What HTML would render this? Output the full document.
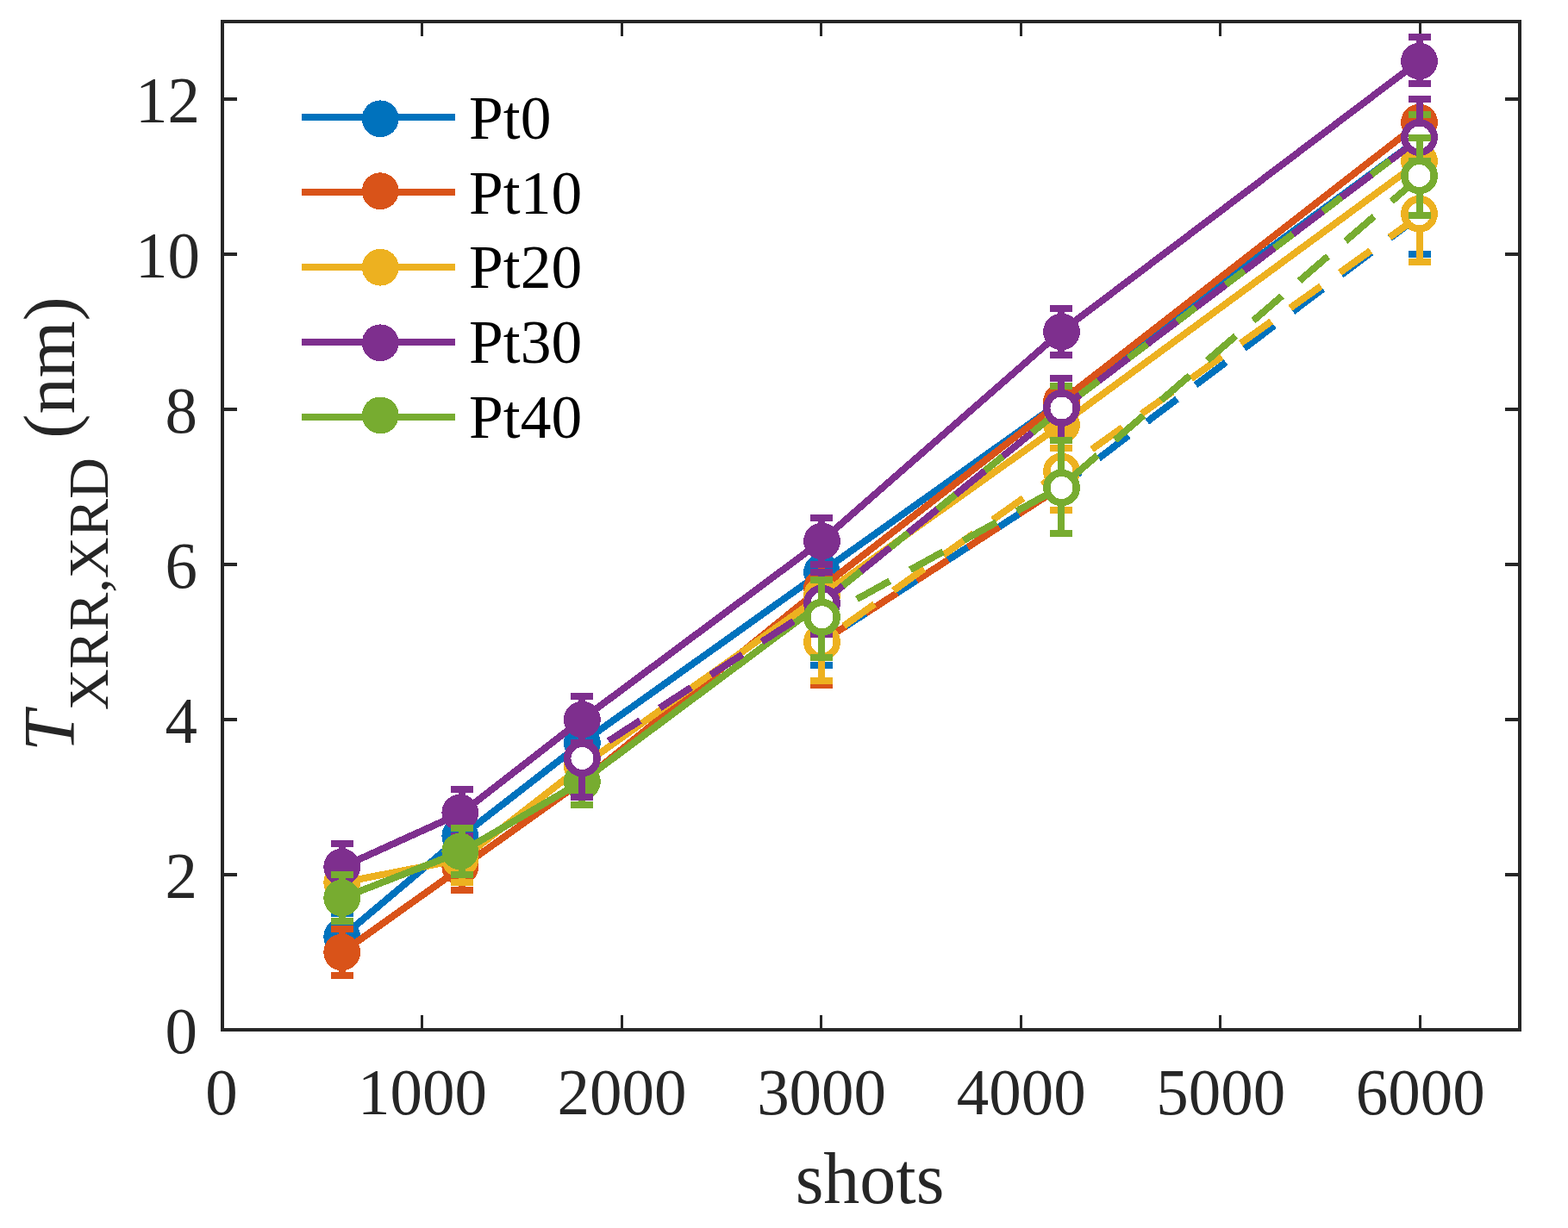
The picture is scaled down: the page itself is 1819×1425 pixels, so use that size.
<!DOCTYPE html>
<html lang="en">
<head>
<meta charset="utf-8">
<title>T XRR,XRD (nm) vs shots</title>
<style>
html,body{margin:0;padding:0;background:#fff;}
body{width:1819px;height:1425px;overflow:hidden;}
svg{display:block;}
</style>
</head>
<body>
<svg width="1819" height="1425" viewBox="0 0 1819 1425">
<rect width="1819" height="1425" fill="#fff"/>
<g fill="#262626" shape-rendering="crispEdges">
<rect x="256" y="23" width="1509" height="4"/>
<rect x="256" y="1193" width="1509" height="4"/>
<rect x="256" y="23" width="4" height="1174"/>
<rect x="1761" y="23" width="4" height="1174"/>
<rect x="488" y="1178" width="3" height="17"/>
<rect x="488" y="25" width="3" height="17"/>
<rect x="720" y="1178" width="3" height="17"/>
<rect x="720" y="25" width="3" height="17"/>
<rect x="951" y="1178" width="3" height="17"/>
<rect x="951" y="25" width="3" height="17"/>
<rect x="1183" y="1178" width="3" height="17"/>
<rect x="1183" y="25" width="3" height="17"/>
<rect x="1414" y="1178" width="3" height="17"/>
<rect x="1414" y="25" width="3" height="17"/>
<rect x="1646" y="1178" width="3" height="17"/>
<rect x="1646" y="25" width="3" height="17"/>
<rect x="258" y="1013" width="17" height="4"/>
<rect x="1746" y="1013" width="17" height="4"/>
<rect x="258" y="833" width="17" height="4"/>
<rect x="1746" y="833" width="17" height="4"/>
<rect x="258" y="653" width="17" height="4"/>
<rect x="1746" y="653" width="17" height="4"/>
<rect x="258" y="473" width="17" height="4"/>
<rect x="1746" y="473" width="17" height="4"/>
<rect x="258" y="293" width="17" height="4"/>
<rect x="1746" y="293" width="17" height="4"/>
<rect x="258" y="113" width="17" height="4"/>
<rect x="1746" y="113" width="17" height="4"/>
</g>
<g font-family="'Liberation Serif', 'Times New Roman', serif" font-size="75" fill="#262626">
<text transform="translate(257 1292.7) scale(1 1.025)" text-anchor="middle">0</text>
<text transform="translate(490.04 1292.7) scale(1 1.025)" text-anchor="middle">1000</text>
<text transform="translate(721.58 1292.7) scale(1 1.025)" text-anchor="middle">2000</text>
<text transform="translate(953.12 1292.7) scale(1 1.025)" text-anchor="middle">3000</text>
<text transform="translate(1184.65 1292.7) scale(1 1.025)" text-anchor="middle">4000</text>
<text transform="translate(1416.19 1292.7) scale(1 1.025)" text-anchor="middle">5000</text>
<text transform="translate(1647.73 1292.7) scale(1 1.025)" text-anchor="middle">6000</text>
<text transform="translate(229 1221.7) scale(1 1.025)" text-anchor="end">0</text>
<text transform="translate(229 1041.7) scale(1 1.025)" text-anchor="end">2</text>
<text transform="translate(229 861.7) scale(1 1.025)" text-anchor="end">4</text>
<text transform="translate(229 681.7) scale(1 1.025)" text-anchor="end">6</text>
<text transform="translate(229 501.7) scale(1 1.025)" text-anchor="end">8</text>
<text transform="translate(232 321.7) scale(1 1.025)" text-anchor="end">10</text>
<text transform="translate(232 141.7) scale(1 1.025)" text-anchor="end">12</text>
</g>
<g font-family="'Liberation Serif', 'Times New Roman', serif" fill="#262626">
<text x="1009" y="1396" font-size="84" text-anchor="middle">shots</text>
<text transform="translate(86.1 872.1) rotate(-90)" font-size="84.6"><tspan x="0" y="0" font-style="italic">T</tspan><tspan x="47.85" y="38.95" font-size="66.4">XRR,XRD</tspan><tspan x="342.3" y="0"> (nm)</tspan></text>
</g>
<g shape-rendering="crispEdges">
<path d="M397.12 1087 L536.05 970 L674.97 862 L952.82 664 L1230.66 466 L1647.43 160" fill="none" stroke="#0072BD" stroke-width="8" stroke-linejoin="miter"/>
<path d="M397.12 1060 V1114 M384.12 1060 H410.12 M384.12 1114 H410.12" fill="none" stroke="#0072BD" stroke-width="8"/>
<path d="M536.05 943 V997 M523.05 943 H549.05 M523.05 997 H549.05" fill="none" stroke="#0072BD" stroke-width="8"/>
<path d="M674.97 835 V889 M661.97 835 H687.97 M661.97 889 H687.97" fill="none" stroke="#0072BD" stroke-width="8"/>
<path d="M952.82 637 V691 M939.82 637 H965.82 M939.82 691 H965.82" fill="none" stroke="#0072BD" stroke-width="8"/>
<path d="M1230.66 439 V493 M1217.66 439 H1243.66 M1217.66 493 H1243.66" fill="none" stroke="#0072BD" stroke-width="8"/>
<path d="M1647.43 133 V187 M1634.43 133 H1660.43 M1634.43 187 H1660.43" fill="none" stroke="#0072BD" stroke-width="8"/>
<circle cx="396.70" cy="1087.00" r="21.4" fill="#0072BD"/>
<circle cx="533.80" cy="970.00" r="21.4" fill="#0072BD"/>
<circle cx="675.40" cy="862.00" r="21.4" fill="#0072BD"/>
<circle cx="953.50" cy="664.00" r="21.4" fill="#0072BD"/>
<circle cx="1231.50" cy="466.00" r="21.4" fill="#0072BD"/>
<circle cx="1646.50" cy="159.50" r="21.4" fill="#0072BD"/>
<path d="M397.12 1105 L536.05 1006 L674.97 907 L952.82 682 L1230.66 466 L1647.43 142" fill="none" stroke="#D95319" stroke-width="8" stroke-linejoin="miter"/>
<path d="M397.12 1078 V1132 M384.12 1078 H410.12 M384.12 1132 H410.12" fill="none" stroke="#D95319" stroke-width="8"/>
<path d="M536.05 979 V1033 M523.05 979 H549.05 M523.05 1033 H549.05" fill="none" stroke="#D95319" stroke-width="8"/>
<path d="M674.97 880 V934 M661.97 880 H687.97 M661.97 934 H687.97" fill="none" stroke="#D95319" stroke-width="8"/>
<path d="M952.82 655 V709 M939.82 655 H965.82 M939.82 709 H965.82" fill="none" stroke="#D95319" stroke-width="8"/>
<path d="M1230.66 439 V493 M1217.66 439 H1243.66 M1217.66 493 H1243.66" fill="none" stroke="#D95319" stroke-width="8"/>
<path d="M1647.43 115 V169 M1634.43 115 H1660.43 M1634.43 169 H1660.43" fill="none" stroke="#D95319" stroke-width="8"/>
<circle cx="396.70" cy="1105.00" r="21.4" fill="#D95319"/>
<circle cx="533.80" cy="1006.00" r="21.4" fill="#D95319"/>
<circle cx="675.40" cy="907.00" r="21.4" fill="#D95319"/>
<circle cx="953.50" cy="682.00" r="21.4" fill="#D95319"/>
<circle cx="1231.50" cy="466.00" r="21.4" fill="#D95319"/>
<circle cx="1646.50" cy="142.00" r="21.4" fill="#D95319"/>
<path d="M397.12 1024 L536.05 997 L674.97 889 L952.82 691 L1230.66 493 L1647.43 187" fill="none" stroke="#EDB120" stroke-width="8" stroke-linejoin="miter"/>
<path d="M397.12 997 V1051 M384.12 997 H410.12 M384.12 1051 H410.12" fill="none" stroke="#EDB120" stroke-width="8"/>
<path d="M536.05 970 V1024 M523.05 970 H549.05 M523.05 1024 H549.05" fill="none" stroke="#EDB120" stroke-width="8"/>
<path d="M674.97 862 V916 M661.97 862 H687.97 M661.97 916 H687.97" fill="none" stroke="#EDB120" stroke-width="8"/>
<path d="M952.82 664 V718 M939.82 664 H965.82 M939.82 718 H965.82" fill="none" stroke="#EDB120" stroke-width="8"/>
<path d="M1230.66 466 V520 M1217.66 466 H1243.66 M1217.66 520 H1243.66" fill="none" stroke="#EDB120" stroke-width="8"/>
<path d="M1647.43 160 V214 M1634.43 160 H1660.43 M1634.43 214 H1660.43" fill="none" stroke="#EDB120" stroke-width="8"/>
<circle cx="396.70" cy="1024.00" r="21.4" fill="#EDB120"/>
<circle cx="533.80" cy="997.00" r="21.4" fill="#EDB120"/>
<circle cx="675.40" cy="889.00" r="21.4" fill="#EDB120"/>
<circle cx="953.50" cy="691.00" r="21.4" fill="#EDB120"/>
<circle cx="1231.50" cy="493.00" r="21.4" fill="#EDB120"/>
<circle cx="1646.50" cy="187.00" r="21.4" fill="#EDB120"/>
<path d="M397.12 1006 L536.05 943 L674.97 835 L952.82 628 L1230.66 385 L1647.43 70" fill="none" stroke="#7E2F8E" stroke-width="8" stroke-linejoin="miter"/>
<path d="M397.12 979 V1033 M384.12 979 H410.12 M384.12 1033 H410.12" fill="none" stroke="#7E2F8E" stroke-width="8"/>
<path d="M536.05 916 V970 M523.05 916 H549.05 M523.05 970 H549.05" fill="none" stroke="#7E2F8E" stroke-width="8"/>
<path d="M674.97 808 V862 M661.97 808 H687.97 M661.97 862 H687.97" fill="none" stroke="#7E2F8E" stroke-width="8"/>
<path d="M952.82 601 V655 M939.82 601 H965.82 M939.82 655 H965.82" fill="none" stroke="#7E2F8E" stroke-width="8"/>
<path d="M1230.66 358 V412 M1217.66 358 H1243.66 M1217.66 412 H1243.66" fill="none" stroke="#7E2F8E" stroke-width="8"/>
<path d="M1647.43 43 V97 M1634.43 43 H1660.43 M1634.43 97 H1660.43" fill="none" stroke="#7E2F8E" stroke-width="8"/>
<circle cx="396.70" cy="1006.00" r="21.4" fill="#7E2F8E"/>
<circle cx="533.80" cy="943.00" r="21.4" fill="#7E2F8E"/>
<circle cx="675.40" cy="835.00" r="21.4" fill="#7E2F8E"/>
<circle cx="953.50" cy="628.00" r="21.4" fill="#7E2F8E"/>
<circle cx="1231.50" cy="385.00" r="21.4" fill="#7E2F8E"/>
<circle cx="1646.50" cy="71.00" r="21.4" fill="#7E2F8E"/>
<path d="M397.12 1042 L536.05 988 L674.97 907 L952.82 700 L1230.66 475 L1647.43 160" fill="none" stroke="#77AC30" stroke-width="8" stroke-linejoin="miter"/>
<path d="M397.12 1015 V1069 M384.12 1015 H410.12 M384.12 1069 H410.12" fill="none" stroke="#77AC30" stroke-width="8"/>
<path d="M536.05 961 V1015 M523.05 961 H549.05 M523.05 1015 H549.05" fill="none" stroke="#77AC30" stroke-width="8"/>
<path d="M674.97 880 V934 M661.97 880 H687.97 M661.97 934 H687.97" fill="none" stroke="#77AC30" stroke-width="8"/>
<path d="M952.82 673 V727 M939.82 673 H965.82 M939.82 727 H965.82" fill="none" stroke="#77AC30" stroke-width="8"/>
<path d="M1230.66 448 V502 M1217.66 448 H1243.66 M1217.66 502 H1243.66" fill="none" stroke="#77AC30" stroke-width="8"/>
<path d="M1647.43 133 V187 M1634.43 133 H1660.43 M1634.43 187 H1660.43" fill="none" stroke="#77AC30" stroke-width="8"/>
<circle cx="396.70" cy="1042.00" r="21.4" fill="#77AC30"/>
<circle cx="533.80" cy="988.00" r="21.4" fill="#77AC30"/>
<circle cx="675.40" cy="907.00" r="21.4" fill="#77AC30"/>
<circle cx="953.50" cy="700.00" r="21.4" fill="#77AC30"/>
<circle cx="1231.50" cy="473.50" r="21.4" fill="#77AC30"/>
<circle cx="1646.50" cy="159.50" r="21.4" fill="#77AC30"/>
<path d="M1647.43 250 L1230.66 565 L952.82 745" fill="none" stroke="#0072BD" stroke-width="8" stroke-dasharray="43.7 26.95" stroke-dashoffset="0"/>
<path d="M952.82 718 V772 M939.82 718 H965.82 M939.82 772 H965.82" fill="none" stroke="#0072BD" stroke-width="8"/>
<path d="M1230.66 538 V592 M1217.66 538 H1243.66 M1217.66 592 H1243.66" fill="none" stroke="#0072BD" stroke-width="8"/>
<path d="M1647.43 205 V295 M1634.43 205 H1660.43 M1634.43 295 H1660.43" fill="none" stroke="#0072BD" stroke-width="8"/>
<circle cx="953.50" cy="745.00" r="17.2" fill="#fff" stroke="#0072BD" stroke-width="8.4"/>
<circle cx="1231.50" cy="566.00" r="17.2" fill="#fff" stroke="#0072BD" stroke-width="8.4"/>
<circle cx="1646.50" cy="248.20" r="17.2" fill="#fff" stroke="#0072BD" stroke-width="8.4"/>
<path d="M1647.43 205 L1230.66 565 L952.82 745" fill="none" stroke="#D95319" stroke-width="8" stroke-dasharray="43.7 26.95" stroke-dashoffset="0"/>
<path d="M952.82 695.5 V794.5 M939.82 695.5 H965.82 M939.82 794.5 H965.82" fill="none" stroke="#D95319" stroke-width="8"/>
<path d="M1230.66 538 V592 M1217.66 538 H1243.66 M1217.66 592 H1243.66" fill="none" stroke="#D95319" stroke-width="8"/>
<path d="M1647.43 160 V250 M1634.43 160 H1660.43 M1634.43 250 H1660.43" fill="none" stroke="#D95319" stroke-width="8"/>
<circle cx="953.50" cy="745.00" r="17.2" fill="#fff" stroke="#D95319" stroke-width="8.4"/>
<circle cx="1231.50" cy="566.00" r="17.2" fill="#fff" stroke="#D95319" stroke-width="8.4"/>
<circle cx="1646.50" cy="204.00" r="17.2" fill="#fff" stroke="#D95319" stroke-width="8.4"/>
<path d="M1647.43 250 L1230.66 547 L952.82 745" fill="none" stroke="#EDB120" stroke-width="8" stroke-dasharray="43.7 26.95" stroke-dashoffset="0"/>
<path d="M952.82 700 V790 M939.82 700 H965.82 M939.82 790 H965.82" fill="none" stroke="#EDB120" stroke-width="8"/>
<path d="M1230.66 502 V592 M1217.66 502 H1243.66 M1217.66 592 H1243.66" fill="none" stroke="#EDB120" stroke-width="8"/>
<path d="M1647.43 196 V304 M1634.43 196 H1660.43 M1634.43 304 H1660.43" fill="none" stroke="#EDB120" stroke-width="8"/>
<circle cx="953.50" cy="745.00" r="17.2" fill="#fff" stroke="#EDB120" stroke-width="8.4"/>
<circle cx="1231.50" cy="547.00" r="17.2" fill="#fff" stroke="#EDB120" stroke-width="8.4"/>
<circle cx="1646.50" cy="248.20" r="17.2" fill="#fff" stroke="#EDB120" stroke-width="8.4"/>
<path d="M1647.43 160 L1230.66 475 L952.82 700 L674.97 880" fill="none" stroke="#7E2F8E" stroke-width="8" stroke-dasharray="43.7 26.95" stroke-dashoffset="0"/>
<path d="M674.97 835 V925 M661.97 835 H687.97 M661.97 925 H687.97" fill="none" stroke="#7E2F8E" stroke-width="8"/>
<path d="M952.82 664 V736 M939.82 664 H965.82 M939.82 736 H965.82" fill="none" stroke="#7E2F8E" stroke-width="8"/>
<path d="M1230.66 439 V511 M1217.66 439 H1243.66 M1217.66 511 H1243.66" fill="none" stroke="#7E2F8E" stroke-width="8"/>
<path d="M1647.43 115 V205 M1634.43 115 H1660.43 M1634.43 205 H1660.43" fill="none" stroke="#7E2F8E" stroke-width="8"/>
<circle cx="675.40" cy="880.00" r="17.2" fill="#fff" stroke="#7E2F8E" stroke-width="8.4"/>
<circle cx="953.50" cy="700.00" r="17.2" fill="#fff" stroke="#7E2F8E" stroke-width="8.4"/>
<circle cx="1231.50" cy="473.50" r="17.2" fill="#fff" stroke="#7E2F8E" stroke-width="8.4"/>
<circle cx="1646.50" cy="159.50" r="17.2" fill="#fff" stroke="#7E2F8E" stroke-width="8.4"/>
<path d="M1647.43 205 L1230.66 565 L952.82 718" fill="none" stroke="#77AC30" stroke-width="8" stroke-dasharray="43.7 26.95" stroke-dashoffset="0"/>
<path d="M952.82 673 V763 M939.82 673 H965.82 M939.82 763 H965.82" fill="none" stroke="#77AC30" stroke-width="8"/>
<path d="M1230.66 511 V619 M1217.66 511 H1243.66 M1217.66 619 H1243.66" fill="none" stroke="#77AC30" stroke-width="8"/>
<path d="M1647.43 160 V250 M1634.43 160 H1660.43 M1634.43 250 H1660.43" fill="none" stroke="#77AC30" stroke-width="8"/>
<circle cx="953.50" cy="716.20" r="17.2" fill="#fff" stroke="#77AC30" stroke-width="8.4"/>
<circle cx="1231.50" cy="566.00" r="17.2" fill="#fff" stroke="#77AC30" stroke-width="8.4"/>
<circle cx="1646.50" cy="204.00" r="17.2" fill="#fff" stroke="#77AC30" stroke-width="8.4"/>
</g>
<g shape-rendering="crispEdges">
<rect x="350" y="132" width="178" height="8" fill="#0072BD"/>
<circle cx="441.20" cy="137.80" r="21.4" fill="#0072BD"/>
<rect x="350" y="219" width="178" height="8" fill="#D95319"/>
<circle cx="441.20" cy="221.70" r="21.4" fill="#D95319"/>
<rect x="350" y="306" width="178" height="8" fill="#EDB120"/>
<circle cx="441.20" cy="310.20" r="21.4" fill="#EDB120"/>
<rect x="350" y="393" width="178" height="8" fill="#7E2F8E"/>
<circle cx="441.20" cy="397.80" r="21.4" fill="#7E2F8E"/>
<rect x="350" y="480" width="178" height="8" fill="#77AC30"/>
<circle cx="441.20" cy="481.90" r="21.4" fill="#77AC30"/>
</g>
<g font-family="'Liberation Serif', 'Times New Roman', serif" font-size="71.5" fill="#000">
<text transform="translate(544.1 161) scale(1 1.02)">Pt0</text>
<text transform="translate(544.1 247.5) scale(1 1.02)">Pt10</text>
<text transform="translate(544.1 334.3) scale(1 1.02)">Pt20</text>
<text transform="translate(544.1 421) scale(1 1.02)">Pt30</text>
<text transform="translate(544.1 508) scale(1 1.02)">Pt40</text>
</g>
</svg>
</body>
</html>
